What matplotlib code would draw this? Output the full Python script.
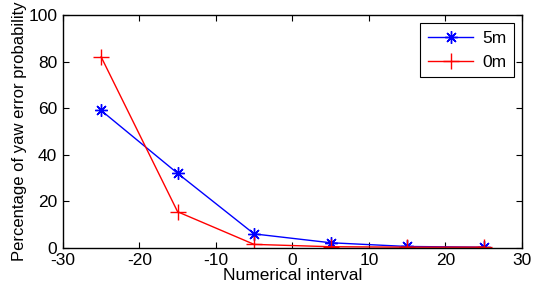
import matplotlib
matplotlib.use('Agg')
import matplotlib.pyplot as plt

plt.rcParams['font.family'] = ['Liberation Sans', 'DejaVu Sans']
plt.rcParams['axes.unicode_minus'] = False

# interval centres
x = [-25, -15, -5, 5, 15, 25]
# yaw error probability (%)
y_5m = [59, 32, 6, 2.2, 0.6, 0.3]
y_0m = [82, 15.5, 1.5, 0.5, 0.3, 0.3]

fig = plt.figure(figsize=(5.33, 2.93), dpi=100)
ax = fig.add_axes([0.118, 0.154, 0.861, 0.795])

ax.plot(x, y_5m, color='blue', marker=(8, 2, 0), markersize=9, markeredgewidth=1,
        linewidth=1, label='5m')
ax.plot(x, y_0m, color='red', marker='+', markersize=11, markeredgewidth=1,
        linewidth=1, label='0m')

ax.set_xlim(-30, 30)
ax.set_ylim(0, 100)
ax.set_xticks(range(-30, 31, 10))
ax.set_yticks(range(0, 101, 20))
ax.tick_params(direction='in', length=4, labelsize=12.5, top=True, right=True,
               labeltop=False, labelright=False)
ax.tick_params(axis='x', pad=4)
ax.tick_params(axis='y', pad=4)
for s in ax.spines.values():
    s.set_linewidth(1)

ax.set_xlabel('Numerical interval', fontsize=12.5, labelpad=0)
ax.set_ylabel('Percentage of yaw error probability', fontsize=12, labelpad=1)

leg = ax.legend(loc='upper right', fontsize=12.5, fancybox=False, framealpha=1,
                edgecolor='black', handlelength=2.6, borderpad=0.45, labelspacing=0.5,
                handletextpad=0.5, borderaxespad=0, bbox_to_anchor=(0.983, 0.966))
leg.get_frame().set_linewidth(0.8)

fig.savefig('out.png', dpi=100)
